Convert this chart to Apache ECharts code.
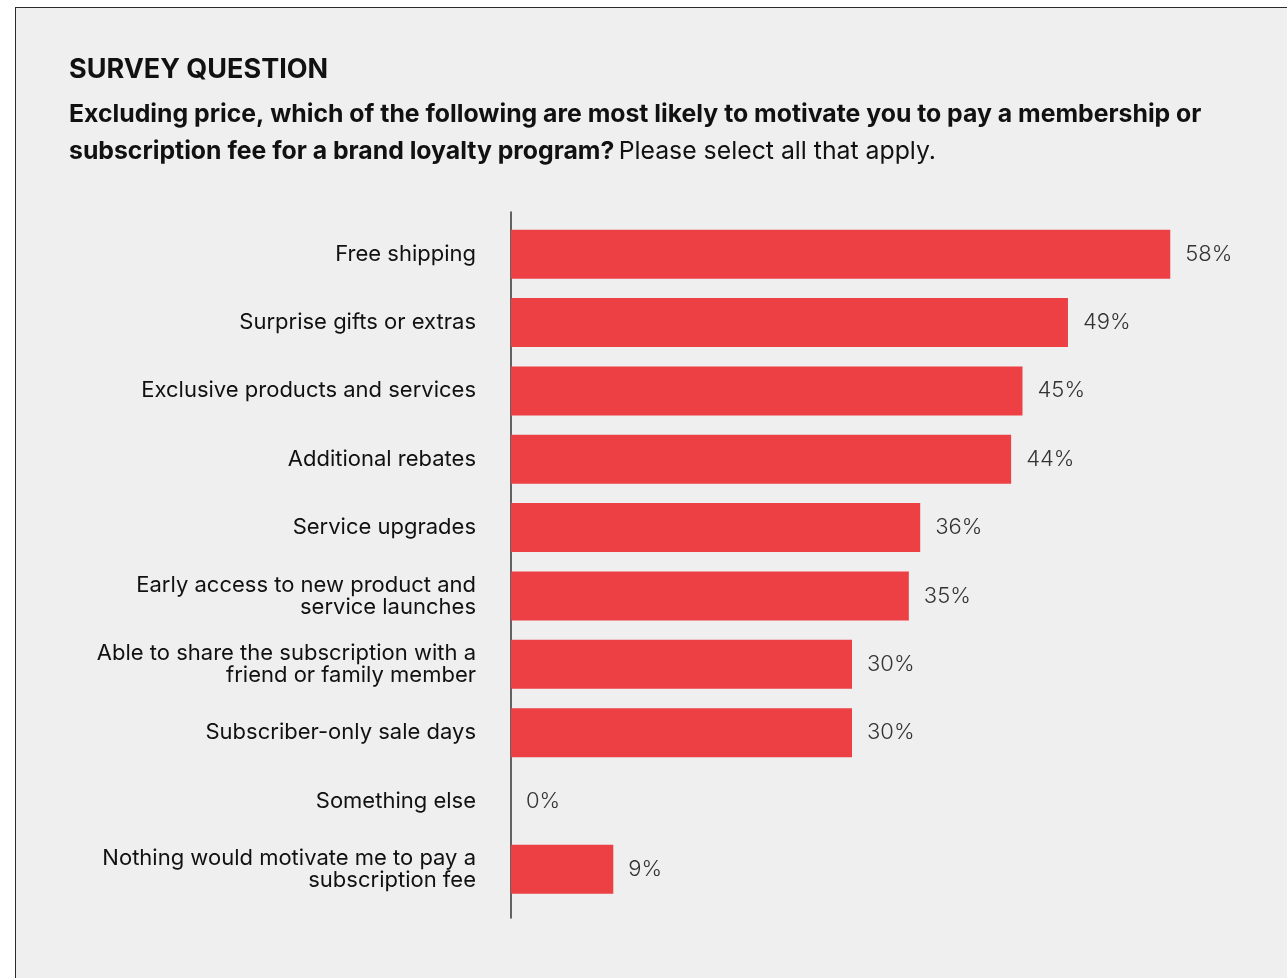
<!DOCTYPE html>
<html>
<head>
<meta charset="utf-8">
<script src="https://cdn.jsdelivr.net/npm/echarts@6/dist/echarts.min.js"></script>
<style>
html,body{margin:0;padding:0;background:#fff;width:1287px;height:978px;overflow:hidden;}
#panel{position:absolute;left:15px;top:7px;right:0;bottom:0;background:#efefef;border-top:1.5px solid #2b2b2b;border-left:1.5px solid #2b2b2b;}
#chart{position:absolute;left:0;top:0;width:1287px;height:978px;}
</style>
</head>
<body>
<div id="panel"></div>
<div id="chart"></div>
<script>
const categories = [
  'Free shipping',
  'Surprise gifts or extras',
  'Exclusive products and services',
  'Additional rebates',
  'Service upgrades',
  'Early access to new product and\nservice launches',
  'Able to share the subscription with a\nfriend or family member',
  'Subscriber-only sale days',
  'Something else',
  'Nothing would motivate me to pay a\nsubscription fee'
];
const values = [58, 49, 45, 44, 36, 35, 30, 30, 0, 9];
const titleText = 'SURVEY QUESTION';
const questionBold1 = 'Excluding price, which of the following are most likely to motivate you to pay a membership or';
const questionBold2 = 'subscription fee for a brand loyalty program?';
const questionRegular = 'Please select all that apply.';

const FONT = 'Inter';
const chart = echarts.init(document.getElementById('chart'), null, {renderer: 'canvas'});
chart.setOption({
  backgroundColor: 'transparent',
  animation: false,
  textStyle: {fontFamily: FONT},
  title: [
    {
      text: titleText,
      left: 64, top: 51,
      textStyle: {fontFamily: FONT, fontSize: 27, fontWeight: 'bold', color: '#111'}
    },
    {
      text: '{b|' + questionBold1 + '}\n{b|' + questionBold2 + '} {r|' + questionRegular + '}',
      left: 64, top: 91,
      textStyle: {
        fontFamily: FONT,
        rich: {
          b: {fontFamily: FONT, fontSize: 24.8, fontWeight: 'bold', color: '#111', lineHeight: 37},
          r: {fontFamily: FONT, fontSize: 24.8, fontWeight: 'normal', color: '#111', lineHeight: 37}
        }
      }
    }
  ],
  grid: [
    {left: 511, top: 220, width: 682, height: 683.5, containLabel: false},
    {left: 510.5, top: 212, width: 682, height: 706, containLabel: false}
  ],
  xAxis: [
    {type: 'value', min: 0, max: 60, show: false, gridIndex: 0},
    {type: 'value', min: 0, max: 60, show: false, gridIndex: 1}
  ],
  yAxis: [
    {
      type: 'category',
      gridIndex: 0,
      data: categories,
      inverse: true,
      axisLine: {show: false},
      axisTick: {show: false},
      axisLabel: {
        margin: 35,
        fontFamily: FONT,
        fontSize: 22,
        color: '#111',
        align: 'right',
        lineHeight: 22,
        padding: [9, 0, 0, 0]
      },
      splitLine: {show: false}
    },
    {
      type: 'value',
      gridIndex: 1,
      min: 0, max: 1,
      axisLine: {show: true, lineStyle: {color: '#333', width: 1.5}},
      axisTick: {show: false},
      axisLabel: {show: false},
      splitLine: {show: false}
    }
  ],
  series: [{
    type: 'bar',
    xAxisIndex: 0,
    yAxisIndex: 0,
    data: values,
    barWidth: 49,
    itemStyle: {color: '#ec4044'},
    label: {
      show: true,
      position: 'right',
      distance: 15,
      formatter: '{c}%',
      fontFamily: FONT,
      fontSize: 22,
      fontWeight: 300,
      color: '#333',
      padding: [6, 0, 0, 0]
    }
  }]
});
</script>
</body>
</html>
